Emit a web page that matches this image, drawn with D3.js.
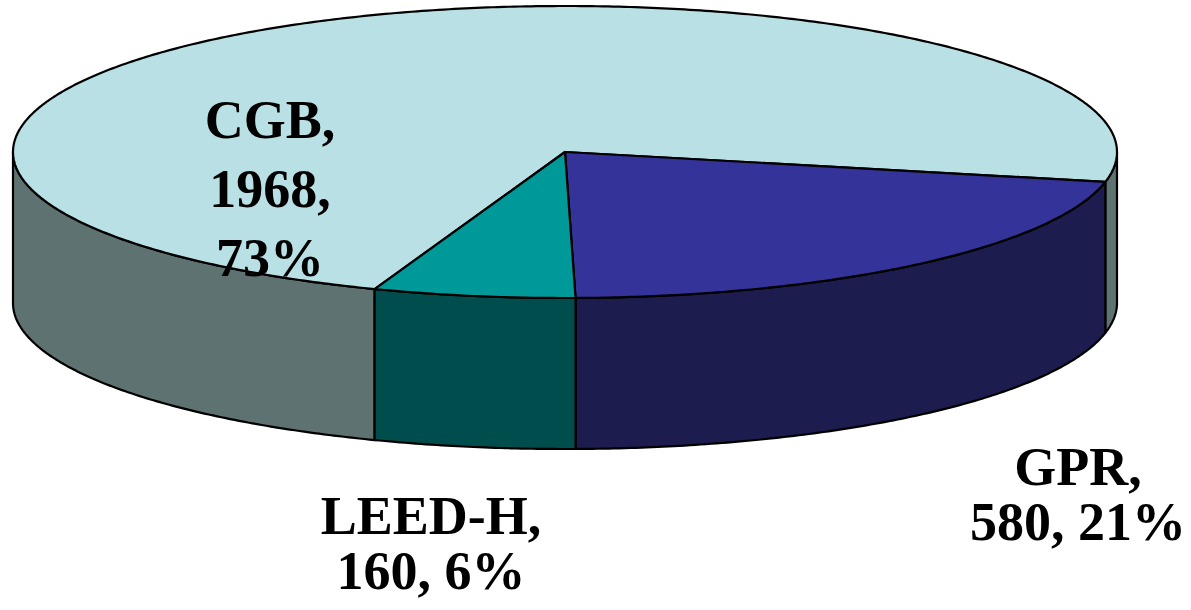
<!DOCTYPE html>
<html>
<head>
<meta charset="utf-8">
<script src="https://cdn.jsdelivr.net/npm/d3@7/dist/d3.min.js"></script>
<style>
html,body{margin:0;padding:0;background:#fff;}
svg{display:block;}
text{font-family:"Liberation Serif","Times New Roman",serif;font-weight:bold;fill:#000;}
</style>
</head>
<body>
<svg id="chart" width="1191" height="610"></svg>
<script>
// ---- data ----
const categories = ["CGB", "GPR", "LEED-H"];
const values = [1968, 580, 160];
const percents = ["73%", "21%", "6%"];
const labelLines = [
  ["CGB,", "1968,", "73%"],
  ["GPR,", "580, 21%"],
  ["LEED-H,", "160, 6%"]
];

// ---- styles / layout ----
const topColors  = ["#B9E0E4", "#333399", "#009999"];
const sideColors = ["#5F7272", "#1C1C4E", "#004D4D"];
const layout = {cx: 565, cy: 152, rx: 552, ry: 146, depth: 151, fontSize: 54};
const labelLayout = [
  {x: 270, y: 138, lh: 69},
  {x: 1078, y: 485, lh: 55},
  {x: 431, y: 534, lh: 55}
];
const firstSliceStartDeg = 101.8 - 360 * values[0] / d3.sum(values);

const svg = d3.select("#chart");
const {cx, cy, rx, ry, depth} = layout;

const pie = d3.pie().sort(null).value(d => d)
  .startAngle(firstSliceStartDeg * Math.PI / 180)
  .endAngle(firstSliceStartDeg * Math.PI / 180 + 2 * Math.PI);
const arcs = pie(values);

const proj = (a, dz = 0) => [cx + rx * Math.sin(a), cy - ry * Math.cos(a) + dz];
function arcPts(a0, a1, dz) {
  const n = Math.max(2, Math.ceil(Math.abs(a1 - a0) / 0.01));
  const pts = [];
  for (let i = 0; i <= n; i++) pts.push(proj(a0 + (a1 - a0) * i / n, dz));
  return pts;
}
const line = d3.line();

// side faces (front half only)
const sides = svg.append("g");
arcs.forEach((d, i) => {
  for (let k = -1; k <= 1; k++) {
    const f0 = Math.PI / 2 + 2 * Math.PI * k, f1 = 3 * Math.PI / 2 + 2 * Math.PI * k;
    const s = Math.max(d.startAngle, f0), e = Math.min(d.endAngle, f1);
    if (e > s) {
      const pts = arcPts(s, e, 0).concat(arcPts(e, s, depth));
      sides.append("path")
        .attr("d", line(pts) + "Z")
        .attr("fill", sideColors[i])
        .attr("stroke", "#000")
        .attr("stroke-width", 2.2)
        .attr("stroke-linejoin", "round");
    }
  }
});

// top faces
const tops = svg.append("g");
arcs.forEach((d, i) => {
  const pts = [[cx, cy]].concat(arcPts(d.startAngle, d.endAngle, 0));
  tops.append("path")
    .attr("d", line(pts) + "Z")
    .attr("fill", topColors[i])
    .attr("stroke", "#000")
    .attr("stroke-width", 2.2)
    .attr("stroke-linejoin", "round");
});

// labels
const labels = svg.append("g");
labelLines.forEach((lines, i) => {
  const L = labelLayout[i];
  const t = labels.append("text")
    .attr("text-anchor", "middle")
    .attr("font-size", layout.fontSize);
  lines.forEach((s, j) => {
    t.append("tspan").attr("x", L.x).attr("y", L.y + j * L.lh).text(s);
  });
});
</script>
</body>
</html>
